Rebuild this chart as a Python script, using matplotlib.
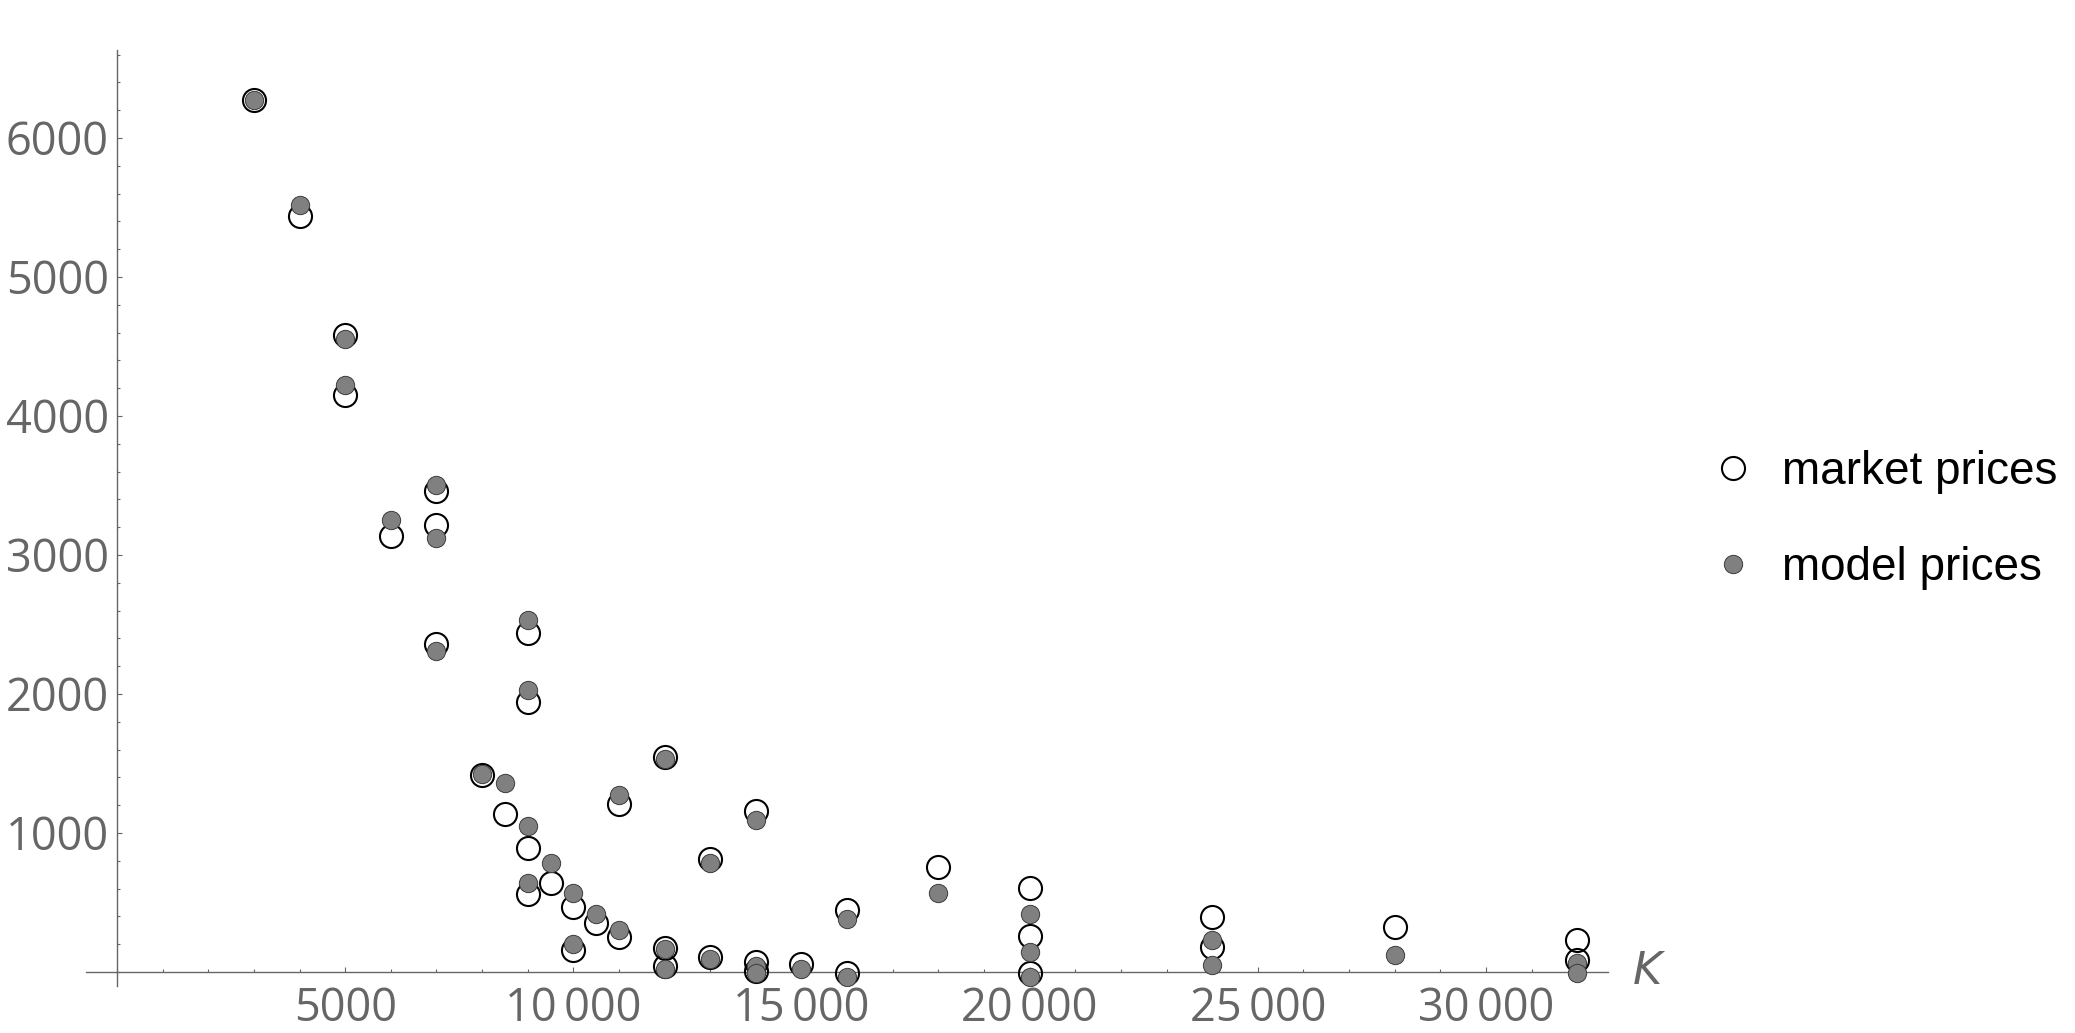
import matplotlib
matplotlib.use("Agg")
import matplotlib.pyplot as plt
from matplotlib.ticker import FixedLocator, MultipleLocator
from matplotlib.font_manager import FontProperties

# ---------------- data ----------------
strikes = [3000, 4000, 5000, 5000, 6000, 7000, 7000, 7000, 8000, 8500,
           9000, 9000, 9000, 9000, 9500, 10000, 10000, 10500, 11000, 11000,
           12000, 12000, 12000, 13000, 13000, 14000, 14000, 14000, 15000, 16000,
           16000, 18000, 20000, 20000, 20000, 24000, 24000, 28000, 32000, 32000]
market_prices = [6276, 5436, 4580, 4149, 3137, 3458, 3216, 2357, 1415, 1133,
                 2438, 1943, 893, 562, 643, 470, 158, 350, 1207, 254,
                 1548, 170, 43, 814, 106, 1155, 75, 10, 55, 446,
                 -5, 753, 602, 261, -5, 396, 180, 321, 230, 86]
model_prices = [6271, 5520, 4554, 4225, 3255, 3506, 3120, 2311, 1425, 1359,
                2529, 2028, 1047, 643, 782, 571, 201, 415, 1273, 302,
                1531, 163, 19, 782, 91, 1096, 43, -5, 19, 379,
                -34, 571, 415, 146, -34, 228, 53, 125, 67, -10]

x_ticks = [5000, 10000, 15000, 20000, 25000, 30000]
x_tick_labels = ["5000", "10\u2009000", "15\u2009000", "20\u2009000", "25\u2009000", "30\u2009000"]
y_ticks = [1000, 2000, 3000, 4000, 5000, 6000]
y_tick_labels = ["1000", "2000", "3000", "4000", "5000", "6000"]
series_labels = ["market prices", "model prices"]
x_axis_label = "K"

# ---------------- figure ----------------
W, H = 2075, 1033
fig = plt.figure(figsize=(W / 100, H / 100), dpi=100)
left_px, right_px, top_px, bottom_px = 86, 1608, 50, 986
ax = fig.add_axes([left_px / W, 1 - bottom_px / H,
                   (right_px - left_px) / W, (bottom_px - top_px) / H])

ax.set_xlim(-680, 32675)
ax.set_ylim(-101, 6633)

axis_gray = "#666666"
ax.plot(strikes, market_prices, linestyle="none", marker="o", ms=16.6,
        mfc="none", mec="black", mew=1.5, zorder=3, label=series_labels[0])
ax.plot(strikes, model_prices, linestyle="none", marker="o", ms=13.2,
        mfc="#808080", mec="#3c3c3c", mew=0.7, zorder=4, label=series_labels[1])

for s in ["top", "right"]:
    ax.spines[s].set_visible(False)
ax.spines["left"].set_position(("data", 0))
ax.spines["bottom"].set_position(("data", 0))
for s in ["left", "bottom"]:
    ax.spines[s].set_color(axis_gray)
    ax.spines[s].set_linewidth(1.0)

tick_font = FontProperties(family=["Open Sans", "DejaVu Sans"], size=32.5)
ax.xaxis.set_major_locator(FixedLocator(x_ticks))
ax.yaxis.set_major_locator(FixedLocator(y_ticks))
ax.xaxis.set_minor_locator(MultipleLocator(1000))
ax.yaxis.set_minor_locator(MultipleLocator(200))
ax.set_xticklabels(x_tick_labels)
ax.set_yticklabels(y_tick_labels)
for lab in ax.get_xticklabels() + ax.get_yticklabels():
    lab.set_fontproperties(tick_font)
    lab.set_color(axis_gray)

ax.tick_params(which="both", direction="in", color=axis_gray, width=0.8)
ax.tick_params(which="major", length=3.6)
ax.tick_params(which="minor", length=2.2)
ax.tick_params(axis="x", which="major", pad=10)
ax.tick_params(axis="y", which="major", pad=6)

# axis label K at the end of the x axis
ax.annotate(x_axis_label, xy=(1.0, 0), xycoords=ax.get_yaxis_transform(),
            xytext=(18, 0), textcoords="offset points", ha="left", va="center",
            fontproperties=FontProperties(family="DejaVu Sans",
                                          style="oblique", size=32),
            color=axis_gray)

leg = ax.legend(loc="center left", bbox_to_anchor=(1710 / W, 1 - 520 / H),
                bbox_transform=fig.transFigure, frameon=False,
                prop=FontProperties(family="Liberation Sans", size=33),
                handlelength=1.0, handletextpad=0.57, borderpad=0,
                borderaxespad=0, labelspacing=1.12)

fig.savefig("out.png", dpi=100)
